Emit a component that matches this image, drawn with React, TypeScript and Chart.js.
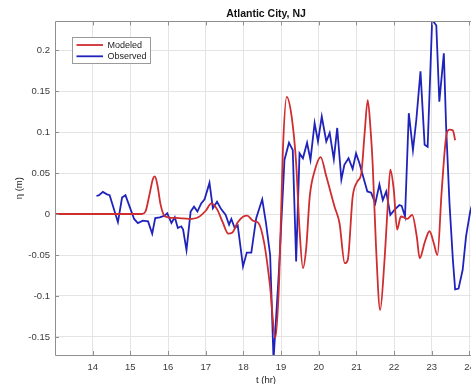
import React, { useEffect, useRef } from "react";
import { Chart, registerables } from "chart.js";

Chart.register(...registerables);

const chartTitle = "Atlantic City, NJ";
const xLabel = "t (hr)";
const yLabel = "η (m)";
const seriesNames = ["Modeled", "Observed"];
const seriesColors = ["#cf2d2f", "#2023bb"];

const xTicks = [14, 15, 16, 17, 18, 19, 20, 21, 22, 23, 24];
const yTicks = [-0.15, -0.1, -0.05, 0, 0.05, 0.1, 0.15, 0.2];
const xRange = [13.0, 24.2];
const yRange = [-0.172, 0.235];

const modT = [
  13.0, 15.3, 15.4, 15.5, 15.6, 15.65, 15.72, 15.8, 15.9, 16.0, 16.3, 16.55, 16.8, 17.0,
  17.15, 17.3, 17.45, 17.6, 17.7, 17.85, 18.0, 18.1, 18.25, 18.4, 18.55, 18.7, 18.85, 18.95,
  19.05, 19.15, 19.28, 19.4, 19.49, 19.58, 19.67, 19.76, 19.9, 20.05, 20.2, 20.42, 20.55,
  20.69, 20.77, 20.9, 21.03, 21.13, 21.22, 21.3, 21.38, 21.43, 21.52, 21.63, 21.74, 21.83,
  21.9, 21.99, 22.08, 22.18, 22.3, 22.35, 22.48, 22.6, 22.68, 22.81, 22.94, 23.05, 23.15,
  23.26, 23.39, 23.47, 23.56, 23.62,
];
const modV = [
  0, 0, 0.003, 0.022, 0.043, 0.046, 0.035, 0.012, -0.002, -0.004, -0.005, -0.006, -0.004, 0.004,
  0.013, 0.006, -0.01, -0.024, -0.023, -0.01, -0.003, -0.002, -0.008, -0.011, -0.035, -0.085, -0.151, -0.08,
  0.08, 0.143, 0.119, 0.062, -0.019, -0.066, -0.04, 0.021, 0.054, 0.0695, 0.046, 0.009, -0.011,
  -0.06, -0.056, 0.021, 0.04, 0.05, 0.1, 0.139, 0.1, 0.062, -0.04, -0.117, -0.06, 0.009,
  0.054, 0.03, -0.019, -0.003, -0.005, -0.006, -0.001, -0.027, -0.054, -0.035, -0.021, -0.035, -0.05,
  0.026, 0.097, 0.103, 0.102, 0.09,
];

const obsT = [
  14.1, 14.17, 14.27, 14.38, 14.45, 14.67, 14.78, 14.87, 14.98, 15.1, 15.2, 15.33, 15.47, 15.58,
  15.66, 15.78, 15.91, 15.98, 16.09, 16.18, 16.26, 16.35, 16.4, 16.49, 16.6, 16.69, 16.78, 16.88,
  16.97, 17.1, 17.19, 17.3, 17.41, 17.53, 17.62, 17.68, 17.77, 17.85, 17.99, 18.09, 18.21, 18.34,
  18.5, 18.6, 18.71, 18.8, 18.94, 19.09, 19.21, 19.31, 19.4, 19.49, 19.58, 19.69, 19.78, 19.89,
  19.98, 20.08, 20.2, 20.29, 20.4, 20.49, 20.6, 20.68, 20.79, 20.9, 20.99, 21.08, 21.2, 21.29,
  21.39, 21.5, 21.61, 21.7, 21.79, 21.9, 22.01, 22.14, 22.2, 22.29, 22.39, 22.5, 22.59, 22.7,
  22.81, 22.89, 23.01, 23.12, 23.2, 23.32, 23.38, 23.47, 23.56, 23.62, 23.71, 23.82, 23.91, 24.02,
  24.12,
];
const obsV = [
  0.022, 0.023, 0.027, 0.024, 0.023, -0.01, 0.02, 0.023, 0.009, -0.006, -0.011, -0.008, -0.009, -0.024,
  -0.005, -0.004, -0.002, 0.001, -0.011, -0.004, -0.017, -0.015, -0.019, -0.044, 0.003, 0.009, 0.003, 0.013,
  0.018, 0.038, 0.007, 0.015, 0.006, -0.001, -0.013, -0.006, -0.017, -0.014, -0.064, -0.047, -0.047, -0.005,
  0.018, -0.011, -0.05, -0.178, -0.072, 0.066, 0.087, 0.078, -0.058, 0.074, 0.068, 0.087, 0.066, 0.111,
  0.0885, 0.119, 0.0885, 0.099, 0.067, 0.105, 0.042, 0.06, 0.068, 0.055, 0.074, 0.062, 0.042, 0.0275,
  0.026, 0.013, 0.036, 0.017, 0.0275, -0.001, 0.005, 0.011, 0.01, -0.003, 0.123, 0.078, 0.115, 0.174,
  0.0845, 0.082, 0.237, 0.23, 0.137, 0.196, 0.107, 0.013, -0.056, -0.092, -0.091, -0.068, -0.027, 0.003,
  0.02,
];

const FONT = "'Liberation Sans', Arial, Helvetica, sans-serif";
const FRAME = "#8f8f8f";

const framePlugin = {
  id: "frameTicks",
  afterDraw(chart: any) {
    const { ctx, chartArea } = chart;
    const { left, right, top, bottom } = chartArea;
    const xs = chart.scales.x;
    const ys = chart.scales.y;
    ctx.save();
    ctx.strokeStyle = FRAME;
    ctx.lineWidth = 1;
    ctx.beginPath();
    ctx.rect(Math.round(left) + 0.5, Math.round(top) + 0.5, Math.round(right - left), Math.round(bottom - top));
    ctx.stroke();
    ctx.beginPath();
    xTicks.forEach((t) => {
      const px = Math.round(xs.getPixelForValue(t)) + 0.5;
      ctx.moveTo(px, top);
      ctx.lineTo(px, top + 4);
      ctx.moveTo(px, bottom);
      ctx.lineTo(px, bottom - 4);
    });
    yTicks.forEach((v) => {
      const py = Math.round(ys.getPixelForValue(v)) + 0.5;
      ctx.moveTo(left, py);
      ctx.lineTo(left + 4, py);
      ctx.moveTo(right, py);
      ctx.lineTo(right - 4, py);
    });
    ctx.stroke();

    // legend box
    const bx = Math.round(left) + 17.5;
    const by = Math.round(top) + 16.5;
    const bw = 78;
    const bh = 26;
    ctx.fillStyle = "#ffffff";
    ctx.fillRect(bx, by, bw, bh);
    ctx.strokeStyle = "#9a9a9a";
    ctx.strokeRect(bx, by, bw, bh);
    ctx.font = `9px ${FONT}`;
    ctx.textBaseline = "middle";
    ctx.textAlign = "left";
    chart.data.datasets.forEach((ds: any, i: number) => {
      const ly = by + 7.5 + i * 11.3;
      ctx.strokeStyle = ds.borderColor;
      ctx.lineWidth = 1.8;
      ctx.beginPath();
      ctx.moveTo(bx + 4, ly);
      ctx.lineTo(bx + 30.5, ly);
      ctx.stroke();
      ctx.fillStyle = "#222222";
      ctx.fillText(ds.label, bx + 35, ly + 0.5);
    });
    ctx.restore();
  },
};

export default function App() {
  const ref = useRef<HTMLCanvasElement | null>(null);
  useEffect(() => {
    if (!ref.current) return;
    const chart = new Chart(ref.current, {
      type: "line",
      data: {
        datasets: [
          {
            label: seriesNames[0],
            data: modT.map((t, i) => ({ x: t, y: modV[i] })),
            borderColor: seriesColors[0],
            backgroundColor: seriesColors[0],
            borderWidth: 1.8,
            pointRadius: 0,
            cubicInterpolationMode: "monotone",
            fill: false,
          },
          {
            label: seriesNames[1],
            data: obsT.map((t, i) => ({ x: t, y: obsV[i] })),
            borderColor: seriesColors[1],
            backgroundColor: seriesColors[1],
            borderWidth: 1.8,
            pointRadius: 0,
            tension: 0,
            fill: false,
          },
        ],
      },
      options: {
        animation: false,
        responsive: false,
        devicePixelRatio: 1,
        layout: { padding: { top: 0, left: 0, right: 0, bottom: 0 } },
        plugins: {
          legend: { display: false },
          tooltip: { enabled: false },
          title: {
            display: true,
            text: chartTitle,
            fullSize: false,
            color: "#111111",
            font: { family: FONT, size: 10.5, weight: "bold" },
            padding: { top: 8, bottom: 0.8 },
          },
        },
        scales: {
          x: {
            type: "linear",
            min: xRange[0],
            max: xRange[1],
            afterBuildTicks: (s: any) => {
              s.ticks = xTicks.map((v) => ({ value: v }));
            },
            afterFit: (s: any) => {
              s.height = 29;
              s.paddingLeft = 0;
              s.paddingRight = 0;
            },
            grid: { color: "#e4e4e4", lineWidth: 1, drawTicks: false },
            border: { display: false },
            ticks: {
              autoSkip: false,
              maxRotation: 0,
              padding: 7,
              color: "#3a3a3a",
              font: { family: FONT, size: 9.5 },
              callback: (v: any) => String(v),
            },
            title: {
              display: true,
              text: xLabel,
              color: "#222222",
              font: { family: FONT, size: 9.5 },
              padding: { top: 0, bottom: -2 },
            },
          },
          y: {
            type: "linear",
            min: yRange[0],
            max: yRange[1],
            afterBuildTicks: (s: any) => {
              s.ticks = yTicks.map((v) => ({ value: v }));
            },
            afterFit: (s: any) => {
              s.width = 55;
              s.paddingTop = 0;
              s.paddingBottom = 0;
            },
            grid: { color: "#e4e4e4", lineWidth: 1, drawTicks: false },
            border: { display: false },
            ticks: {
              autoSkip: false,
              padding: 5,
              color: "#3a3a3a",
              font: { family: FONT, size: 9.5 },
              callback: (v: any) => String(v),
            },
            title: {
              display: true,
              text: yLabel,
              color: "#222222",
              font: { family: FONT, size: 9.5 },
              padding: { top: 14, bottom: 0 },
            },
          },
        },
      },
      plugins: [framePlugin],
    });
    return () => chart.destroy();
  }, []);
  return (
    <div
      style={{
        position: "fixed",
        left: 0,
        top: 0,
        width: 471,
        height: 384,
        overflow: "hidden",
        background: "#ffffff",
      }}
    >
      <canvas ref={ref} width={477} height={384} style={{ display: "block" }} />
    </div>
  );
}
